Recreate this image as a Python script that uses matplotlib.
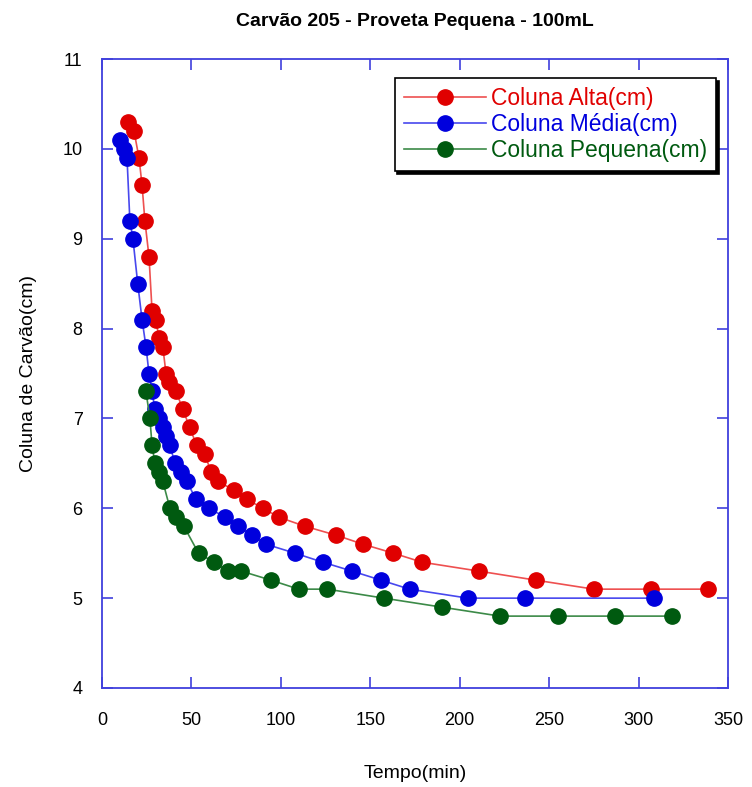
import matplotlib
matplotlib.use("Agg")
import matplotlib.pyplot as plt

plt.rcParams['font.family'] = ['Liberation Sans', 'DejaVu Sans']

# Coluna Alta
alta_t = [14.5, 17.9, 20.7, 22.4, 24.0, 26.3, 28.0, 30.0, 31.9, 34.0, 35.8, 37.5, 41.4,
          45.3, 49.0, 53.0, 57.6, 61.0, 65.0, 73.8, 81.0, 90.0, 99.0, 113.5, 131.0,
          146.0, 163.0, 179.0, 211.0, 242.6, 275.0, 307.0, 339.0]
alta_h = [10.3, 10.2, 9.9, 9.6, 9.2, 8.8, 8.2, 8.1, 7.9, 7.8, 7.5, 7.4, 7.3,
          7.1, 6.9, 6.7, 6.6, 6.4, 6.3, 6.2, 6.1, 6.0, 5.9, 5.8, 5.7,
          5.6, 5.5, 5.4, 5.3, 5.2, 5.1, 5.1, 5.1]

# Coluna Media
media_t = [10.0, 12.3, 14.0, 15.6, 17.3, 20.0, 22.4, 24.6, 26.3, 28.0, 29.6, 32.0, 34.0,
           35.8, 38.0, 40.8, 44.0, 47.5, 52.5, 60.0, 68.8, 76.0, 84.0, 91.7, 108.0,
           123.5, 140.0, 156.0, 172.0, 204.6, 236.4, 308.5]
media_h = [10.1, 10.0, 9.9, 9.2, 9.0, 8.5, 8.1, 7.8, 7.5, 7.3, 7.1, 7.0, 6.9,
           6.8, 6.7, 6.5, 6.4, 6.3, 6.1, 6.0, 5.9, 5.8, 5.7, 5.6, 5.5,
           5.4, 5.3, 5.2, 5.1, 5.0, 5.0, 5.0]

# Coluna Pequena
pequena_t = [24.6, 26.8, 28.0, 29.6, 32.0, 34.0, 38.0, 41.4, 45.8, 54.0, 62.6, 70.4,
             78.0, 94.5, 110.0, 126.0, 157.6, 190.0, 222.5, 255.0, 286.8, 319.0]
pequena_h = [7.3, 7.0, 6.7, 6.5, 6.4, 6.3, 6.0, 5.9, 5.8, 5.5, 5.4, 5.3,
             5.3, 5.2, 5.1, 5.1, 5.0, 4.9, 4.8, 4.8, 4.8, 4.8]

fig = plt.figure(figsize=(7.52, 7.87), dpi=100)
ax = fig.add_axes([0.1356, 0.1258, 0.8324, 0.7992])

series = [
    (alta_t, alta_h, '#e00000', '#ee5050', 'Coluna Alta(cm)'),
    (media_t, media_h, '#0000dd', '#4848ee', 'Coluna Média(cm)'),
    (pequena_t, pequena_h, '#005a10', '#3c8a48', 'Coluna Pequena(cm)'),
]
for t, h, mc, lc, lab in series:
    ax.plot(t, h, color=lc, lw=1.2, marker='o', ms=11, mfc=mc, mec=mc, label=lab)

ax.set_xlim(0, 350)
ax.set_ylim(4, 11)
ax.set_xticks(range(0, 351, 50))
ax.set_yticks(range(4, 12))
for s in ax.spines.values():
    s.set_color('#4040dd')
    s.set_linewidth(1.3)
ax.tick_params(direction='in', length=8, width=1.2, color='#4040dd',
               top=True, right=True, labelsize=13, pad=17)
ax.tick_params(axis='y', pad=14)

ax.set_xlabel('Tempo(min)', fontsize=14, labelpad=26)
ax.set_ylabel('Coluna de Carvão(cm)', fontsize=14, labelpad=18)
ax.set_title('Carvão 205 - Proveta Pequena - 100mL', fontsize=14, fontweight='bold', pad=24)

leg = ax.legend(loc='upper right', bbox_to_anchor=(0.981, 0.97), borderaxespad=0,
                fontsize=16.5, frameon=True, fancybox=False,
                shadow={'color': 'black', 'alpha': 1},
                handlelength=3.6, handletextpad=0.2, labelspacing=0.12, borderpad=0.4)
leg.get_frame().set_edgecolor('black')
leg.get_frame().set_linewidth(1.2)
for txt, (_, _, mc, _, _) in zip(leg.get_texts(), series):
    txt.set_color(mc)

fig.savefig('out.png', dpi=100)
